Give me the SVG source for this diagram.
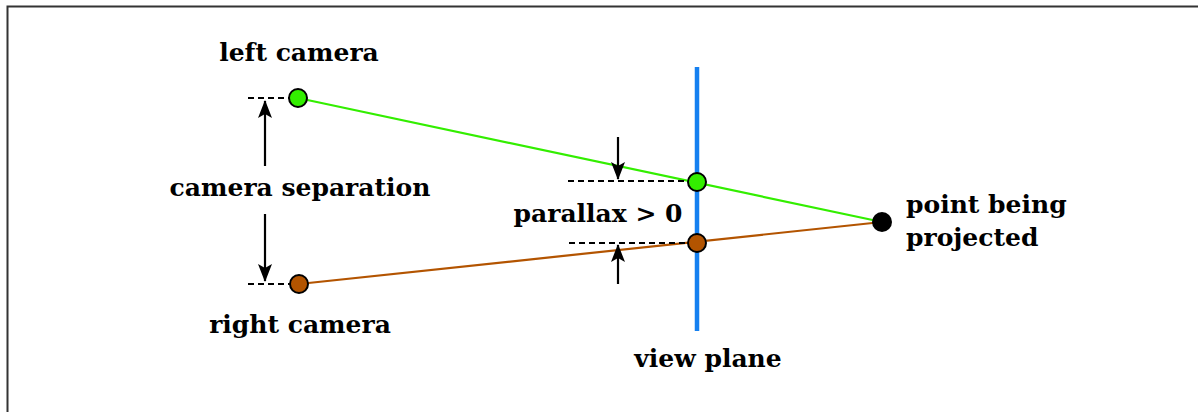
<svg xmlns="http://www.w3.org/2000/svg" width="1198" height="412" viewBox="0 0 1198 412">
<style>
text{font-family:"DejaVu Serif","Liberation Serif",serif;font-size:25px;font-weight:bold;fill:#000}
.dash{stroke:#000;stroke-width:2;stroke-dasharray:6 4;fill:none}
.arr{stroke:#000;stroke-width:2.2;fill:none;marker-end:url(#ah)}
.node{stroke:#000;stroke-width:2}
</style>
<defs>
<marker id="ah" viewBox="0 0 18 14" refX="17" refY="7" markerWidth="18" markerHeight="14" markerUnits="userSpaceOnUse" orient="auto">
<path d="M0,0 L18,7 L0,14 L4,7 Z" fill="#000"/>
</marker>
</defs>
<rect width="1198" height="412" fill="#fff"/>
<path d="M7.5,412 V6.5 H1198" stroke="#333" stroke-width="2" fill="none"/>
<g id="connectors">
<line x1="298" y1="98" x2="882" y2="222" stroke="#33ee00" stroke-width="2.2"/>
<line x1="299" y1="284" x2="882" y2="222" stroke="#b35400" stroke-width="2.2"/>
<line x1="697" y1="67" x2="697" y2="331" stroke="#1580f0" stroke-width="4.5"/>
<line class="dash" x1="248" y1="98" x2="290" y2="98"/>
<line class="dash" x1="248" y1="284" x2="291" y2="284"/>
<line class="dash" x1="568" y1="181" x2="689" y2="181"/>
<line class="dash" x1="569" y1="243" x2="689" y2="243"/>
<line class="arr" x1="265" y1="166" x2="265" y2="101"/>
<line class="arr" x1="265" y1="214" x2="265" y2="281"/>
<line class="arr" x1="618" y1="137" x2="618" y2="179"/>
<line class="arr" x1="618" y1="284" x2="618" y2="245"/>
</g>
<g id="left-camera">
<circle class="node" cx="298" cy="98" r="9" fill="#33ee00"/>
<text x="299" y="61" text-anchor="middle">left camera</text>
</g>
<g id="right-camera">
<circle class="node" cx="299" cy="284" r="9" fill="#b35400"/>
<text x="300" y="333" text-anchor="middle">right camera</text>
</g>
<g id="separation-label">
<text x="300" y="196" text-anchor="middle">camera separation</text>
</g>
<g id="green-projection">
<circle class="node" cx="697" cy="182" r="9" fill="#33ee00"/>
</g>
<g id="brown-projection">
<circle class="node" cx="697" cy="243" r="9" fill="#b35400"/>
</g>
<g id="parallax-label">
<text x="598" y="222" text-anchor="middle">parallax &gt; 0</text>
</g>
<g id="point">
<circle cx="882" cy="222" r="10" fill="#000"/>
<text x="906" y="213">point being</text>
<text x="906" y="246">projected</text>
</g>
<g id="view-plane">
<text x="708" y="367" text-anchor="middle">view plane</text>
</g>
</svg>
